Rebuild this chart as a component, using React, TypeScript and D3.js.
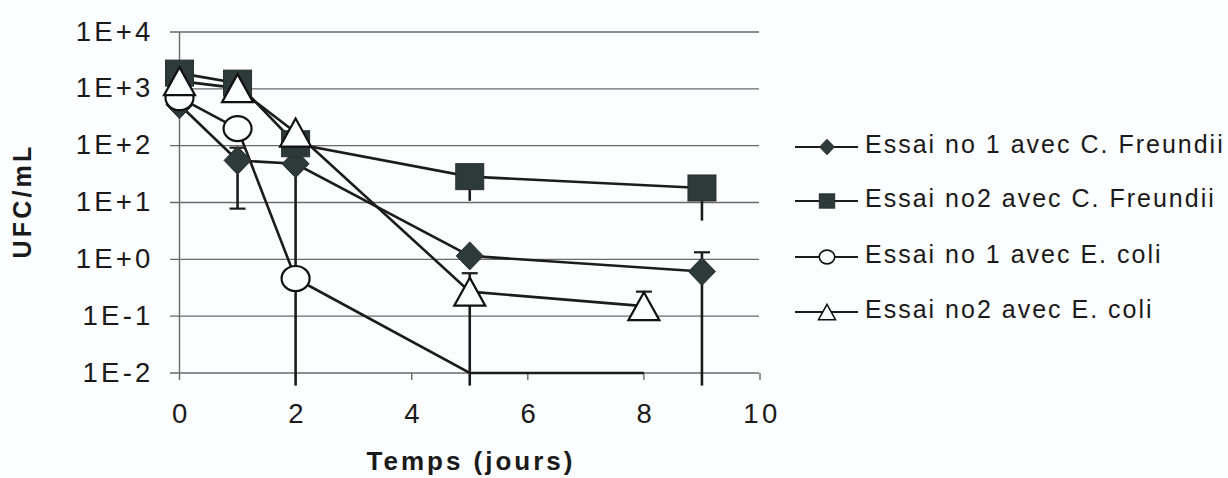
import React from 'react';
import * as d3 from 'd3';

const W = 1228;
const H = 478;

const seriesLabels = [
  'Essai no 1 avec C. Freundii',
  'Essai no2 avec C. Freundii',
  'Essai no 1 avec E. coli',
  'Essai no2 avec E. coli',
];
const xTicks = [0, 2, 4, 6, 8, 10];
const yTicks = [1e-2, 1e-1, 1, 10, 100, 1000, 10000];
const yTickLabels = ['1E-2', '1E-1', '1E+0', '1E+1', '1E+2', '1E+3', '1E+4'];
const xTitle = 'Temps (jours)';
const yTitle = 'UFC/mL';

// Essai no 1 avec C. Freundii
const cf1Days = [0, 1, 2, 5, 9];
const cf1Values = [525, 55, 48, 1.15, 0.61];
const cf1ErrLow = [null, 7.8, 0.006, null, 0.006];
const cf1ErrHigh = [null, 92, null, null, 1.33];

// Essai no2 avec C. Freundii
const cf2Days = [0, 1, 2, 5, 9];
const cf2Values = [1890, 1260, 108, 28.5, 18];
const cf2ErrLow = [null, null, null, 10.7, 4.8];
const cf2ErrHigh = [null, null, null, null, null];

// Essai no 1 avec E. coli
const ec1Days = [0, 1, 2, 5, 8];
const ec1Values = [700, 200, 0.46, 0.01, 0.01];
const ec1ErrLow = [null, null, null, null, null];
const ec1ErrHigh = [null, null, null, null, null];

// Essai no2 avec E. coli
const ec2Days = [0, 1, 2, 5, 8];
const ec2Values = [1365, 1030, 170, 0.27, 0.15];
const ec2ErrLow = [null, null, null, 0.006, null];
const ec2ErrHigh = [null, null, null, 0.57, 0.27];

type Pt = { day: number; value: number; lo: number | null; hi: number | null };
const build = (d: number[], v: number[], lo: (number | null)[], hi: (number | null)[]): Pt[] =>
  d.map((day, i) => ({ day, value: v[i], lo: lo[i], hi: hi[i] }));

const seriesData = [
  build(cf1Days, cf1Values, cf1ErrLow, cf1ErrHigh),
  build(cf2Days, cf2Values, cf2ErrLow, cf2ErrHigh),
  build(ec1Days, ec1Values, ec1ErrLow, ec1ErrHigh),
  build(ec2Days, ec2Values, ec2ErrLow, ec2ErrHigh),
];
const shapes = ['diamond', 'square', 'circle', 'triangle'];
const DARK = '#2e3a3a';
const LINE = '#1c1c1c';
const fills = [DARK, DARK, '#fdfefe', '#fdfefe'];
const caps = [true, false, true, true];

const FONT = "'Liberation Sans', Arial, sans-serif";

function Marker({ shape, cx, cy, s = 1, fill }: { shape: string; cx: number; cy: number; s?: number; fill: string }) {
  const stroke = fill === DARK ? '#243030' : '#111';
  const sw = fill === DARK ? 1 : 2.2 * Math.max(s, 0.7);
  if (shape === 'diamond') {
    return <path d={`M${cx},${cy - 14 * s}L${cx + 13.5 * s},${cy}L${cx},${cy + 14 * s}L${cx - 13.5 * s},${cy}Z`} fill={fill} stroke={stroke} strokeWidth={sw} />;
  }
  if (shape === 'square') {
    return <rect x={cx - 14 * s} y={cy - 13 * s} width={28 * s} height={26 * s} fill={fill} stroke={stroke} strokeWidth={sw} />;
  }
  if (shape === 'circle') {
    return <ellipse cx={cx} cy={cy} rx={14 * s} ry={12.5 * s} fill={fill} stroke={stroke} strokeWidth={sw} />;
  }
  return <path d={`M${cx},${cy - 14 * s}L${cx + 15.5 * s},${cy + 14 * s}L${cx - 15.5 * s},${cy + 14 * s}Z`} fill={fill} stroke={stroke} strokeWidth={sw} />;
}

export default function App() {
  const x = d3.scaleLinear().domain([0, 10]).range([179.5, 760]);
  const y = d3.scaleLog().domain([1e-2, 1e4]).range([373, 32]);
  const yMin = 1e-2;
  const line = d3
    .line<Pt>()
    .x((d) => x(d.day))
    .y((d) => y(d.value));

  const legendRows = [143, 197, 253, 308];

  return (
    <svg width={W} height={H} style={{ position: 'fixed', left: 0, top: 0, background: '#fcfdfe' }} fontFamily={FONT}>
      <rect width={W} height={H} fill="#fcfdfe" />
      {/* gridlines + y tick marks */}
      {yTicks.map((t) => (
        <line key={t} x1={170} x2={759} y1={y(t)} y2={y(t)} stroke="#6a6a6a" strokeWidth={1.4} />
      ))}
      {/* y axis */}
      <line x1={x(0)} x2={x(0)} y1={y(1e4)} y2={y(1e-2)} stroke="#6a6a6a" strokeWidth={1.4} />
      {/* x tick marks */}
      {xTicks.map((t) => (
        <line key={t} x1={x(t)} x2={x(t)} y1={373} y2={380} stroke="#6a6a6a" strokeWidth={1.4} />
      ))}
      {/* y tick labels */}
      {yTicks.map((t, i) => (
        <text key={t} x={153.5} y={y(t) + 8.5} textAnchor="end" fontSize={27.5} letterSpacing={3.2} fill="#1a1a1a">
          {yTickLabels[i]}
        </text>
      ))}
      {/* x tick labels */}
      {xTicks.map((t) => (
        <text key={t} x={x(t) + 2} y={423} textAnchor="middle" fontSize={27.5} letterSpacing={3.5} fill="#1a1a1a">
          {String(t)}
        </text>
      ))}
      {/* axis titles */}
      <text x={471} y={470} textAnchor="middle" fontSize={26} fontWeight="bold" letterSpacing={3} fill="#1a1a1a">
        {xTitle}
      </text>
      <text transform={`translate(31,201) rotate(-90)`} textAnchor="middle" fontSize={25} fontWeight="bold" letterSpacing={3.2} fill="#1a1a1a">
        {yTitle}
      </text>

      {/* error bars */}
      {seriesData.map((pts, si) =>
        pts.map((p, pi) => {
          const cx = x(p.day);
          const els: React.ReactNode[] = [];
          if (p.lo != null) {
            els.push(<line key={`l${pi}`} x1={cx} x2={cx} y1={y(p.value)} y2={y(p.lo)} stroke={LINE} strokeWidth={2.6} />);
            if (caps[si] && p.lo >= yMin)
              els.push(<line key={`lc${pi}`} x1={cx - 8} x2={cx + 8} y1={y(p.lo)} y2={y(p.lo)} stroke={LINE} strokeWidth={2.2} />);
          }
          if (p.hi != null) {
            els.push(<line key={`h${pi}`} x1={cx} x2={cx} y1={y(p.value)} y2={y(p.hi)} stroke={LINE} strokeWidth={2.6} />);
            if (caps[si])
              els.push(<line key={`hc${pi}`} x1={cx - 8} x2={cx + 8} y1={y(p.hi)} y2={y(p.hi)} stroke={LINE} strokeWidth={2.2} />);
          }
          return <g key={`${si}-${pi}`}>{els}</g>;
        })
      )}

      {/* series lines */}
      {seriesData.map((pts, si) => (
        <path key={si} d={line(pts) || ''} fill="none" stroke={LINE} strokeWidth={2.6} />
      ))}

      {/* markers */}
      {seriesData.map((pts, si) =>
        pts
          .filter((p) => p.value > yMin)
          .map((p, pi) => <Marker key={`${si}-${pi}`} shape={shapes[si]} cx={x(p.day)} cy={y(p.value)} fill={fills[si]} />)
      )}

      {/* legend */}
      {seriesLabels.map((lab, i) => (
        <g key={lab}>
          <line x1={795} x2={858} y1={legendRows[i] + 4} y2={legendRows[i] + 4} stroke={LINE} strokeWidth={1.8} />
          <Marker shape={shapes[i]} cx={827} cy={legendRows[i] + 4} s={0.55} fill={fills[i]} />
          <text x={865} y={legendRows[i] + 9.5} fontSize={25} letterSpacing={2} fill="#1a1a1a">
            {lab}
          </text>
        </g>
      ))}
    </svg>
  );
}
